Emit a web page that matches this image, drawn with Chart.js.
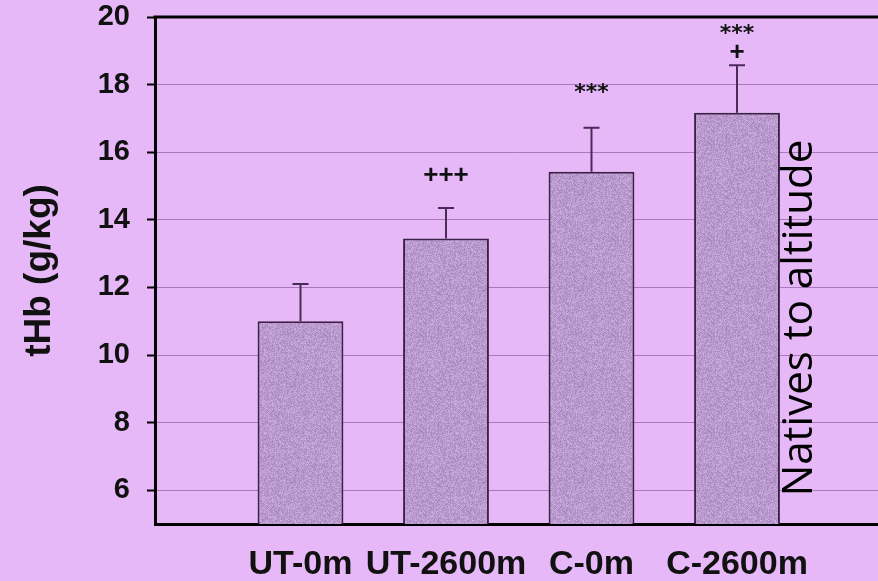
<!DOCTYPE html>
<html>
<head>
<meta charset="utf-8">
<script src="https://cdn.jsdelivr.net/npm/chart.js@4/dist/chart.umd.min.js"></script>
<style>
  html, body { margin: 0; padding: 0; background: #e7b8f8; overflow: hidden; }
  #tHbChart { display: block; }
</style>
</head>
<body>
<canvas id="tHbChart" width="900" height="581"></canvas>
<script>
// Total haemoglobin mass per group
const categories = ['UT-0m', 'UT-2600m', 'C-0m', 'C-2600m'];
const tHb = [11.0, 13.45, 15.42, 17.17];
const tHbSD = [1.1, 0.9, 1.3, 1.4];
const marks = [[], ['+++'], ['***'], ['+', '***']];
const yTicks = [6, 8, 10, 12, 14, 16, 18, 20];

// blank slots at both ends give the empty margin left and right of the bars
const xLabels = ['', ...categories, ''];
const barData = [null, ...tHb, null];

// grainy purple fill for the bars
function grainPattern() {
  const c = document.createElement('canvas');
  c.width = 96; c.height = 96;
  const g = c.getContext('2d');
  const img = g.createImageData(96, 96);
  let seed = 12345;
  for (let i = 0; i < 96 * 96; i++) {
    seed = (seed * 1103515245 + 12345) & 0x7fffffff;
    const n = ((seed >> 8) % 41) - 20;
    img.data[i * 4] = 186 + n;
    img.data[i * 4 + 1] = 153 + n;
    img.data[i * 4 + 2] = 206 + n;
    img.data[i * 4 + 3] = 255;
  }
  g.putImageData(img, 0, 0);
  return g.createPattern(c, 'repeat');
}

const errorBars = {
  id: 'errorBars',
  afterDatasetsDraw(chart, args, opts) {
    const { ctx, scales: { y } } = chart;
    const meta = chart.getDatasetMeta(0);
    ctx.save();
    ctx.strokeStyle = opts.color;
    ctx.lineWidth = opts.width;
    tHb.forEach((v, i) => {
      const bar = meta.data[i + 1];
      const top = y.getPixelForValue(v + tHbSD[i]);
      ctx.beginPath();
      ctx.moveTo(bar.x, bar.y);
      ctx.lineTo(bar.x, top);
      ctx.moveTo(bar.x - opts.cap / 2, top);
      ctx.lineTo(bar.x + opts.cap / 2, top);
      ctx.stroke();

      // significance marks stacked above the cap
      ctx.fillStyle = '#111';
      ctx.textAlign = 'center';
      marks[i].forEach((m, k) => {
        ctx.font = m.startsWith('*') ? opts.starFont : opts.plusFont;
        const tm = ctx.measureText(m);
        const cy = top - opts.lift[i][k];
        ctx.fillText(m, bar.x, cy + (tm.actualBoundingBoxAscent - tm.actualBoundingBoxDescent) / 2);
      });
    });
    ctx.restore();
  }
};

const frameAndNote = {
  id: 'frameAndNote',
  afterDraw(chart) {
    const { ctx, chartArea } = chart;
    ctx.save();
    ctx.strokeStyle = '#000';
    ctx.lineWidth = 3;
    ctx.beginPath();
    ctx.moveTo(chartArea.left - 1.5, chartArea.top);
    ctx.lineTo(chart.width, chartArea.top);
    ctx.stroke();

    ctx.translate(812, 318);
    ctx.rotate(-Math.PI / 2);
    ctx.fillStyle = '#000';
    ctx.font = '42px "Open Sans"';
    ctx.textAlign = 'center';
    ctx.textBaseline = 'alphabetic';
    ctx.fillText('Natives to altitude', 0, 0);
    ctx.restore();
  }
};

const ctx = document.getElementById('tHbChart').getContext('2d');
new Chart(ctx, {
  type: 'bar',
  data: {
    labels: xLabels,
    datasets: [{
      data: barData,
      backgroundColor: grainPattern(),
      borderColor: '#3a2244',
      borderWidth: 2,
      borderSkipped: 'bottom',
      barPercentage: 0.59,
      categoryPercentage: 1
    }]
  },
  options: {
    responsive: false,
    animation: false,
    layout: { padding: { top: 17, right: 17.5, bottom: 0, left: 0 } },
    scales: {
      x: {
        offset: false,
        grid: { display: false, offset: false },
        border: { display: true, color: '#000', width: 3 },
        ticks: {
          color: '#111',
          font: { family: '"Liberation Sans", Arial, sans-serif', size: 34, weight: 'bold' },
          padding: 12,
          maxRotation: 0,
          autoSkip: false
        },
        afterFit(scale) { scale.height = 57; }
      },
      y: {
        min: 5,
        max: 20,
        afterBuildTicks(scale) { scale.ticks = yTicks.map(v => ({ value: v })); },
        grid: {
          color: c => (c.tick && c.tick.value === 20 ? 'rgba(0,0,0,0)' : 'rgba(120,70,140,0.55)'),
          lineWidth: 1,
          tickColor: '#000',
          tickLength: 8,
          tickWidth: 2
        },
        border: { display: true, color: '#000', width: 3 },
        ticks: {
          color: '#111',
          font: { family: '"Liberation Sans", Arial, sans-serif', size: 29, weight: 'bold' },
          padding: 17
        },
        title: {
          display: true,
          text: 'tHb (g/kg)',
          color: '#111',
          font: { family: '"Liberation Sans", Arial, sans-serif', size: 37, weight: 'bold' },
          padding: { top: 18, bottom: 0 }
        },
        afterFit(scale) {
          scale.width = 155;
          scale.paddingTop = 0;
          scale.paddingBottom = 0;
        }
      }
    },
    plugins: {
      legend: { display: false },
      tooltip: { enabled: false },
      errorBars: {
        color: '#4a2a58',
        width: 2,
        cap: 16,
        lift: [[], [34], [40], [14, 36]],
        plusFont: 'bold 26px "Liberation Sans", Arial, sans-serif',
        starFont: 'bold 22px "DejaVu Sans", sans-serif'
      }
    }
  },
  plugins: [errorBars, frameAndNote]
});
</script>
</body>
</html>
